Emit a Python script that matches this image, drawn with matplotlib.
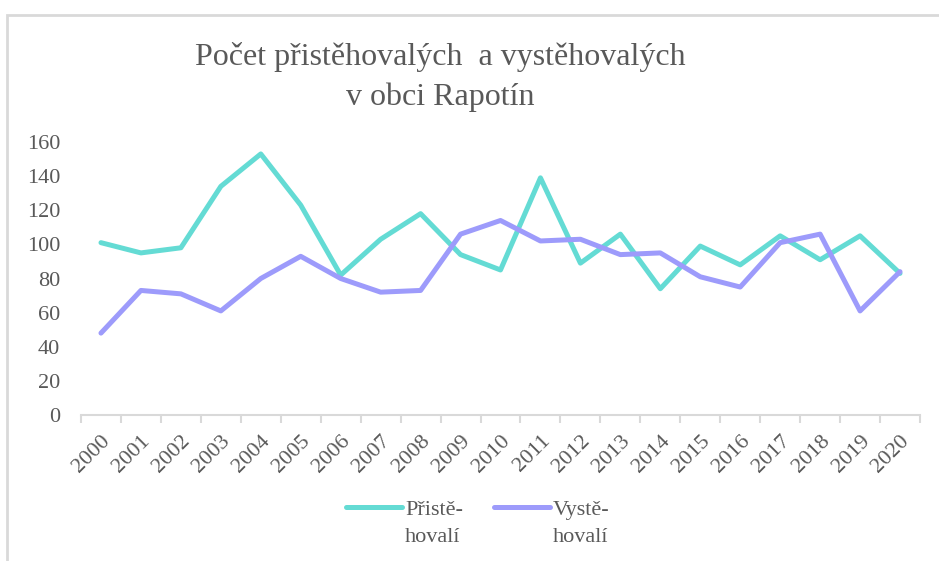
import matplotlib
matplotlib.use("Agg")
import matplotlib.pyplot as plt
from matplotlib.patches import Rectangle

# Données
roky = [str(r) for r in range(2000, 2021)]
pristehovali = [101, 95, 98, 134, 153, 123, 82, 103, 118, 94, 85,
                139, 89, 106, 74, 99, 88, 105, 91, 105, 83]
vystehovali = [48, 73, 71, 61, 80, 93, 80, 72, 73, 106, 114,
               102, 103, 94, 95, 81, 75, 101, 106, 61, 84]

nazev = "Počet přistěhovalých  a vystěhovalých\nv obci Rapotín"
legenda = [("Přistě-", "hovalí"), ("Vystě-", "hovalí")]

seda = "#595959"
plt.rcParams["font.family"] = ["Liberation Serif", "DejaVu Serif"]

fig = plt.figure(figsize=(9.39, 5.61), dpi=100)
ax = fig.add_axes([81 / 939, 1 - 415 / 561, (920 - 81) / 939, (415 - 142) / 561])

# Rámeček okolo grafu
fig.patches.append(Rectangle((7 / 939, -0.05), 1.1, 1 - 15 / 561 + 0.05,
                             transform=fig.transFigure, fill=False,
                             edgecolor="#d9d9d9", linewidth=2))

x = range(len(roky))
ax.plot(x, pristehovali, color="#64dbd4", linewidth=3.6, label=legenda[0][0],
        solid_capstyle="round")
ax.plot(x, vystehovali, color="#9d9bfb", linewidth=3.6, label=legenda[1][0],
        solid_capstyle="round")

ax.set_xlim(-0.5, len(roky) - 0.5)
ax.set_ylim(0, 160)
ax.set_yticks(range(0, 161, 20))
ax.set_xticks([i - 0.5 for i in range(len(roky) + 1)], minor=False)
ax.set_xticklabels([])
ax.set_xticks(list(x), minor=True)
ax.set_xticklabels(roky, minor=True, rotation=45, ha="right",
                   rotation_mode="anchor", fontsize=16, color=seda)
ax.tick_params(axis="x", which="major", length=6, color="#d9d9d9", width=1.5)
ax.tick_params(axis="x", which="minor", length=0, pad=12)
ax.tick_params(axis="y", length=0, labelsize=16, labelcolor=seda, pad=15)

for s in ["top", "right", "left"]:
    ax.spines[s].set_visible(False)
ax.spines["bottom"].set_color("#d9d9d9")
ax.spines["bottom"].set_linewidth(1.5)

fig.text(440 / 939, 1 - 77 / 561, nazev, ha="center", va="center", fontsize=23,
         color=seda, linespacing=1.5)

leg = fig.legend(loc="center", bbox_to_anchor=(478 / 939, 1 - 510 / 561), ncol=2,
                 frameon=False, fontsize=16, labelcolor=seda, handlelength=2.5,
                 handletextpad=0.15, columnspacing=1.4)

# druhý řádek popisků legendy
fig.canvas.draw()
for t, (_, druhy) in zip(leg.get_texts(), legenda):
    bb = t.get_window_extent().transformed(fig.transFigure.inverted())
    fig.text(bb.x0, bb.y0 - 27 / 561, druhy, ha="left", va="bottom",
             fontsize=16, color=seda)

fig.savefig("out.png", dpi=100)
